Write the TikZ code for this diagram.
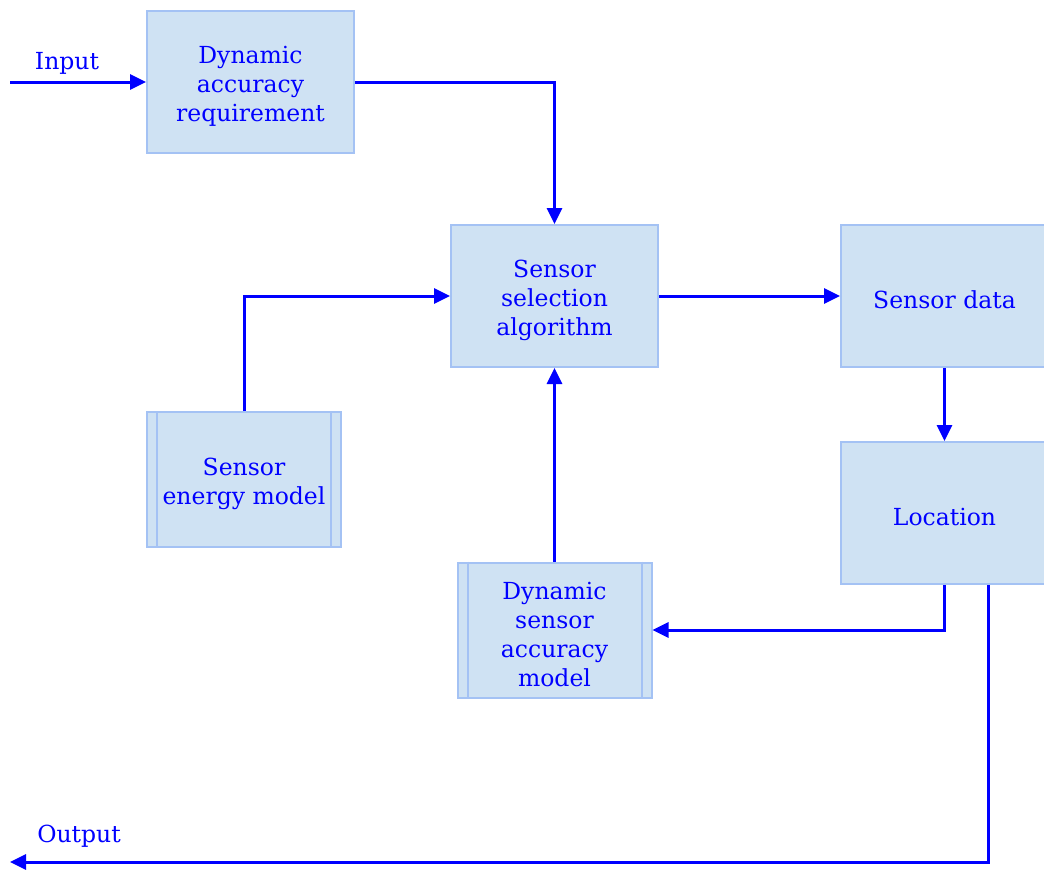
\documentclass[tikz,border=0pt]{standalone}
\usepackage{fontspec}
\setmainfont{DejaVu Serif}
\usetikzlibrary{arrows.meta}
\definecolor{boxfill}{RGB}{207,226,243}
\definecolor{boxline}{RGB}{164,194,244}
\definecolor{flow}{RGB}{0,0,255}
% extra room above the first line of a block label
\newcommand\firstline{\rule{0pt}{26pt}}
\begin{document}
\begin{tikzpicture}[x=1pt,y=-1pt,
  every node/.style={font=\fontsize{23.5}{29}\selectfont, text=flow},
  block/.style={draw=boxline, line width=2pt, fill=boxfill, inner sep=0pt,
    minimum width=207pt, minimum height=142pt, align=center},
  subproc/.style={block, minimum width=194pt, minimum height=135pt},
  link/.style={draw=flow, line width=3pt,
    -{Triangle[length=16pt,width=15pt]}}]
\useasboundingbox (0,0) rectangle (1044,870);

% process blocks
\node[block] (req) at (250.5,82) {\firstline Dynamic\\accuracy\\requirement};
\node[block] (ssa) at (554.5,296) {\firstline Sensor\\selection\\algorithm};
\node[block] (data) at (944.5,296) {\firstline Sensor data};
\node[block] (loc) at (944.5,513) {\firstline Location};

% predefined-process blocks with inner side bars
\node[subproc] (energy) at (244,479.5) {\firstline Sensor\\energy model};
\node[subproc] (acc) at (554.5,630) {\firstline Dynamic\\sensor\\accuracy\\model};
\foreach \n in {energy,acc}{
  \draw[boxline, line width=2pt] ([xshift=11pt]\n.north west) -- ([xshift=11pt]\n.south west);
  \draw[boxline, line width=2pt] ([xshift=-11pt]\n.north east) -- ([xshift=-11pt]\n.south east);
}

% free ends
\coordinate (in) at (10,82);
\coordinate (out) at (10,862);

% connectors
\path[link] (in) -- (req.west);
\node[anchor=base] at (67,69) {Input};
\path[link] (req.east) -| (ssa.north);
\path[link] (energy.north) |- (ssa.west);
\path[link] (acc.north) -- (ssa.south);
\path[link] (ssa.east) -- (data.west);
\path[link] (data.south) -- (loc.south |- loc.north);
\path[link] (loc.south) |- (acc.east);
\path[link] ([xshift=43.5pt]loc.south) |- (out);
\node[anchor=base] at (79,842) {Output};
\end{tikzpicture}
\end{document}
